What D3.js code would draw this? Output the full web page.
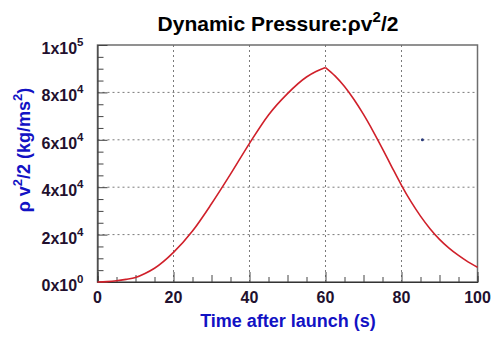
<!DOCTYPE html>
<html>
<head>
<meta charset="utf-8">
<script src="https://cdn.jsdelivr.net/npm/d3@7"></script>
<style>
  html, body { margin: 0; padding: 0; background: #fff; }
  svg { display: block; }
  text { font-family: "Liberation Sans", Arial, Helvetica, sans-serif; font-weight: bold; }
</style>
</head>
<body>
<svg id="chart" width="500" height="340"></svg>
<script>
// Time after launch (s)
const times = [0, 2.5, 5, 7.5, 10, 12.5, 15, 20, 25, 30, 35, 40, 45, 50, 55, 57.5, 60,
               62.5, 65, 67.5, 70, 72.5, 75, 77.5, 80, 82.5, 85, 87.5, 90, 92.5, 95, 97.5, 100];
// Dynamic pressure rho v^2 / 2 (kg/ms^2)
const pressure = [0, 150, 500, 1100, 1900, 3600, 5800, 12500, 21500, 33000, 45500, 58500, 70500, 79500, 86500, 88800, 90500,
                  87000, 82500, 77000, 70700, 63700, 56200, 48400, 40800, 33900, 27800, 22500, 18000, 14300, 11200, 8500, 6200];
// Isolated marker point
const markerT = [85.5];
const markerV = [60000];

const xTicks = [0, 20, 40, 60, 80, 100];
const yTicks = [0, 20000, 40000, 60000, 80000, 100000];
const yMantissa = ["0", "2", "4", "6", "8", "1"];
const yExponent = ["0", "4", "4", "4", "4", "5"];

const svg = d3.select("#chart");
const plotL = 97.5, plotR = 477.5, plotT = 45, plotB = 282;

const x = d3.scaleLinear().domain([0, 100]).range([plotL, plotR]);
const y = d3.scaleLinear().domain([0, 100000]).range([plotB, plotT]);

const labelColor = "#22102e";
const blue = "#1212c4";

// grid
const grid = svg.append("g").attr("stroke", "#7a7a7a").attr("stroke-width", 1).attr("stroke-dasharray", "2,3");
grid.selectAll("line.gx").data(xTicks.slice(1, -1)).join("line")
  .attr("x1", d => x(d)).attr("x2", d => x(d)).attr("y1", plotT).attr("y2", plotB);
grid.selectAll("line.gy").data(yTicks.slice(1, -1)).join("line")
  .attr("x1", plotL).attr("x2", plotR).attr("y1", d => y(d)).attr("y2", d => y(d));

// frame
svg.append("rect").attr("x", plotL).attr("y", plotT).attr("width", plotR - plotL).attr("height", plotB - plotT)
  .attr("fill", "none").attr("stroke", "#6e6e6e").attr("stroke-width", 1.5);

// x axis
const xAxis = d3.axisBottom(x).tickValues(d3.range(0, 101, 5)).tickSize(-6).tickFormat("");
const gx = svg.append("g").attr("transform", `translate(0,${plotB})`).call(xAxis);
gx.select(".domain").attr("stroke", "#333");
gx.selectAll(".tick line").attr("stroke", "#444")
  .attr("y2", d => d % 20 === 0 ? -10 : (d % 10 === 0 ? -7 : -5));
svg.append("g").selectAll("text").data(xTicks).join("text")
  .attr("x", d => x(d)).attr("y", plotB + 21)
  .attr("text-anchor", "middle").attr("font-size", 16).attr("fill", labelColor)
  .text(d => d);

// y axis
const yAxis = d3.axisLeft(y).tickValues(d3.range(0, 100001, 5000)).tickSize(-6).tickFormat("");
const gy = svg.append("g").attr("transform", `translate(${plotL},0)`).call(yAxis);
gy.select(".domain").attr("stroke", "#333");
gy.selectAll(".tick line").attr("stroke", "#444")
  .attr("x2", d => d % 20000 === 0 ? 10 : 6);
const ylab = svg.append("g").selectAll("text").data(yTicks).join("text")
  .attr("x", plotL - 14).attr("y", d => y(d) + 9)
  .attr("text-anchor", "end").attr("font-size", 16).attr("fill", labelColor);
ylab.append("tspan").text((d, i) => yMantissa[i] + "x10");
ylab.append("tspan").attr("dy", -8).attr("font-size", 11.5).text((d, i) => yExponent[i]);

// curve: smooth on each side, with the kink at the peak kept
const pts = times.map((t, i) => [t, pressure[i]]);
const peak = d3.maxIndex(pressure);
const line = d3.line().x(d => x(d[0])).y(d => y(d[1])).curve(d3.curveMonotoneX);
svg.selectAll("path.curve").data([pts.slice(0, peak + 1), pts.slice(peak)]).join("path")
  .attr("class", "curve")
  .attr("d", line).attr("fill", "none").attr("stroke", "#d0202a").attr("stroke-width", 1.6)
  .attr("stroke-linejoin", "round");

// marker
svg.selectAll("circle.m").data(markerT).join("circle")
  .attr("cx", (d) => x(d)).attr("cy", (d, i) => y(markerV[i])).attr("r", 1.5).attr("fill", "#2a3a7a");

// title
const title = svg.append("text").attr("x", 278).attr("y", 31).attr("text-anchor", "middle")
  .attr("font-size", 21).attr("fill", "#000");
title.append("tspan").text("Dynamic Pressure:ρv");
title.append("tspan").attr("dy", -9).attr("font-size", 15).text("2");
title.append("tspan").attr("dy", 9).text("/2");

// x title
svg.append("text").attr("x", 288).attr("y", 327).attr("text-anchor", "middle")
  .attr("font-size", 18).attr("fill", blue).text("Time after launch (s)");

// y title
const yt = svg.append("text").attr("transform", "translate(30,150) rotate(-90)").attr("text-anchor", "middle")
  .attr("font-size", 18).attr("fill", blue);
yt.append("tspan").text("ρ v");
yt.append("tspan").attr("dy", -8).attr("font-size", 13).text("2");
yt.append("tspan").attr("dy", 8).text("/2 (kg/ms");
yt.append("tspan").attr("dy", -8).attr("font-size", 13).text("2");
yt.append("tspan").attr("dy", 8).text(")");
</script>
</body>
</html>
